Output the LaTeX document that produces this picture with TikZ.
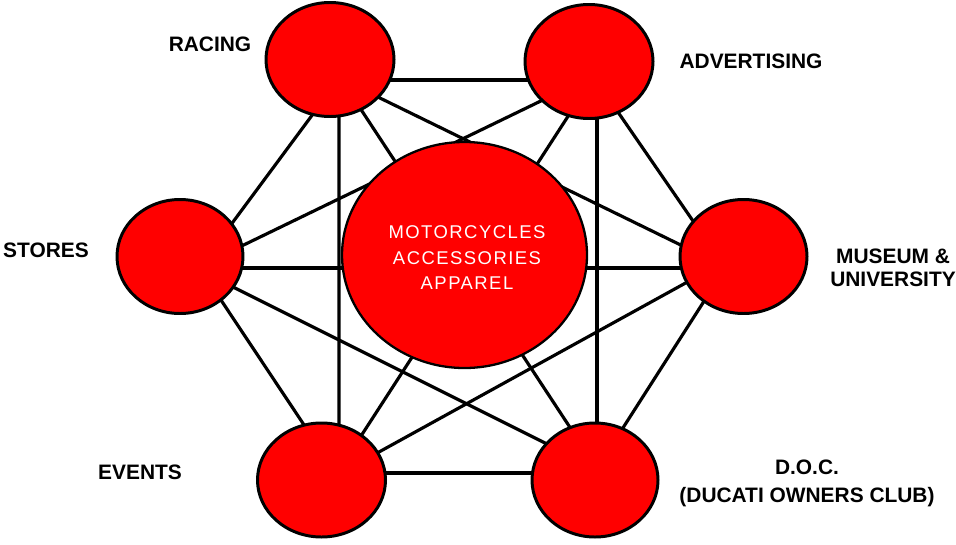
\documentclass[tikz,border=0pt]{standalone}
\usepackage{fontspec}
\setmainfont{Liberation Sans}
\newfontfamily\hubfont[LetterSpace=8]{Liberation Sans}
\usetikzlibrary{shapes.geometric,calc}
\pgfdeclarelayer{background}
\pgfsetlayers{background,main}
\definecolor{ducatired}{RGB}{255,0,0}
\tikzset{
  area/.style={ellipse, draw=black, line width=1.7pt, fill=ducatired, inner sep=0pt,
               minimum width=128*0.02cm, minimum height=114*0.02cm},
  hubnode/.style={ellipse, draw=black, line width=1.3pt, fill=ducatired, inner sep=0pt,
               minimum width=245*0.02cm, minimum height=226*0.02cm},
  hubtext/.style={text=white, align=center, inner sep=0pt,
               font=\hubfont\fontsize{10.5}{14.5}\selectfont},
  tag/.style={align=center, inner sep=0pt, font=\bfseries\fontsize{11.9}{13.3}\selectfont},
  link/.style={draw=black, line width=1.8pt},
}
\begin{document}
\begin{tikzpicture}[x=0.02cm, y=-0.02cm]
  \useasboundingbox (0,0) rectangle (956,544);

  % outer areas and the hub
  \node[area] (racing) at (330,59.5) {};
  \node[area] (adv)    at (589,61.5) {};
  \node[area, minimum width=126*0.02cm] (stores) at (180,256.5) {};
  \node[area, minimum width=127*0.02cm] (museum) at (743.5,256.5) {};
  \node[area] (events) at (321.5,480) {};
  \node[area, minimum width=126*0.02cm] (doc)    at (595,480) {};
  \node[hubnode] (hub) at (464.5,255) {};
  \node[hubtext] (hubtxt) at (467,258) {MOTORCYCLES\\ACCESSORIES\\APPAREL};

  % connections between every pair of outer areas, behind the discs
  \begin{pgfonlayer}{background}
    \draw[link] ($(racing)+(0,20.5)$)  -- ($(adv)+(0,18.5)$);
    \draw[link] ($(racing)+(3,27.5)$)  -- ($(stores)+(30,-3.5)$);
    \draw[link] ($(racing)+(9,20.5)$)  -- ($(events)+(17.5,0)$);
    \draw[link] ($(racing)+(5,10.5)$)  -- ($(doc)+(3,-10)$);
    \draw[link] ($(racing)+(10,19)$)   -- ($(museum)+(-3.5,17.5)$);
    \draw[link] ($(adv)+(-9,20.5)$)    -- ($(stores)+(10,14.5)$);
    \draw[link] ($(adv)+(9,8.5)$)      -- ($(events)+(17.5,-10)$);
    \draw[link] ($(adv)+(8,18.5)$)     -- ($(doc)+(2,0)$);
    \draw[link] ($(adv)+(11,24.5)$)    -- ($(museum)+(-30.5,-6.5)$);
    \draw[link] ($(stores)+(0,11.5)$)  -- ($(museum)+(0,11.5)$);
    \draw[link] ($(stores)+(21,13.5)$) -- ($(events)+(12.5,-10)$);
    \draw[link] ($(stores)+(10,9)$)    -- ($(doc)+(-5,-14.5)$);
    \draw[link] ($(museum)+(-3.5,-3.5)$) -- ($(events)+(8.5,-1)$);
    \draw[link] ($(museum)+(-19.5,13.5)$) -- ($(doc)+(1,-10)$);
    \draw[link] ($(events)+(0,-7)$)    -- ($(doc)+(0,-7)$);
  \end{pgfonlayer}

  % labels
  \node[tag] (racinglabel) at (210,44)  {RACING};
  \node[tag] (advlabel)    at (751,61)  {ADVERTISING};
  \node[tag] (storeslabel) at (46,250)  {STORES};
  \node[tag] (museumlabel) at (893,268) {MUSEUM \&\\UNIVERSITY};
  \node[tag] (eventslabel) at (140,472) {EVENTS};
  \node[tag, font=\bfseries\fontsize{11.9}{16}\selectfont] (doclabel) at (807,483)
    {D.O.C.\\(DUCATI OWNERS CLUB)};
\end{tikzpicture}
\end{document}
